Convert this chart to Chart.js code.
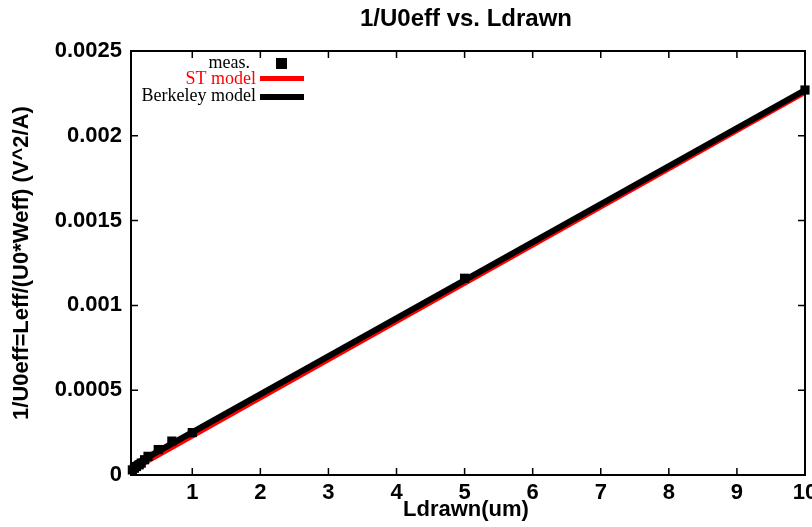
<!DOCTYPE html>
<html>
<head>
<meta charset="utf-8">
<script src="https://cdn.jsdelivr.net/npm/chart.js@4/dist/chart.umd.min.js"></script>
<style>
  html, body { margin: 0; padding: 0; background: #fff; }
  #wrap { width: 812px; height: 527px; position: relative; }
</style>
</head>
<body>
<div id="wrap"><canvas id="c"></canvas></div>
<script>
// 資料
const MEAS_L = [0.12, 0.15, 0.18, 0.22, 0.25, 0.3, 0.35, 0.5, 0.7, 1, 5, 10];
const MEAS_V = [0.00003, 0.00004, 0.00005, 0.00006, 0.00007, 0.00009, 0.00011, 0.00015, 0.0002, 0.00025, 0.00116, 0.00227];
const ST_L = [0.1, 10];
const ST_V = [0.00003, 0.00226];
const BK_L = [0.1, 10];
const BK_V = [0.00005, 0.00227];
const XTICKS = [1, 2, 3, 4, 5, 6, 7, 8, 9, 10];
const YTICKS = [0, 0.0005, 0.001, 0.0015, 0.002, 0.0025];
const TITLE = '1/U0eff vs. Ldrawn';
const XTITLE = 'Ldrawn(um)';
const YTITLE = '1/U0eff=Leff/(U0*Weff) (V^2/A)';

const pts = (xs, ys) => xs.map((x, i) => ({ x, y: ys[i] }));
const SANS = '"Liberation Sans", Arial, sans-serif';
const SERIF = '"Liberation Serif", "Times New Roman", serif';

// 框線 + 四邊內向刻度
const frame = {
  id: 'frame',
  afterDatasetsDraw(chart) {
    const { ctx, chartArea: a, scales } = chart;
    ctx.save();
    ctx.strokeStyle = '#000';
    ctx.lineWidth = 1.5;
    ctx.beginPath();
    XTICKS.forEach((v) => {
      const x = scales.x.getPixelForValue(v);
      ctx.moveTo(x, a.bottom); ctx.lineTo(x, a.bottom - 7);
      ctx.moveTo(x, a.top); ctx.lineTo(x, a.top + 7);
    });
    YTICKS.forEach((v) => {
      const y = scales.y.getPixelForValue(v);
      ctx.moveTo(a.left, y); ctx.lineTo(a.left + 7, y);
      ctx.moveTo(a.right, y); ctx.lineTo(a.right - 7, y);
    });
    ctx.stroke();
    ctx.lineWidth = 2;
    ctx.strokeRect(a.left, a.top, a.right - a.left, a.bottom - a.top);
    ctx.restore();
  },
};

// 標題、軸標題、圖例
const texts = {
  id: 'texts',
  afterDraw(chart) {
    const { ctx, chartArea: a } = chart;
    const cx = (a.left + a.right) / 2;
    ctx.save();
    ctx.fillStyle = '#000';
    ctx.textAlign = 'center';
    ctx.textBaseline = 'middle';
    ctx.font = 'bold 24px ' + SANS;
    ctx.fillText(TITLE, cx - 2, 19);
    ctx.font = 'bold 22px ' + SANS;
    ctx.fillText(XTITLE, cx - 2, 510);
    ctx.save();
    ctx.translate(22, (a.top + a.bottom) / 2);
    ctx.rotate(-Math.PI / 2);
    ctx.fillText(YTITLE, 0, 0);
    ctx.restore();

    // legend
    ctx.font = '18px ' + SERIF;
    ctx.textAlign = 'right';
    const tx = 256;
    ctx.fillStyle = '#000';
    ctx.fillText('meas.', tx - 6, 63);
    ctx.fillRect(276, 58, 11, 11);
    ctx.fillStyle = '#ff0000';
    ctx.fillText('ST model', tx, 79);
    ctx.fillRect(260, 76, 44, 5);
    ctx.fillStyle = '#000';
    ctx.fillText('Berkeley model', tx, 96);
    ctx.fillRect(260, 94, 44, 6);
    ctx.restore();
  },
};

new Chart(document.getElementById('c'), {
  type: 'scatter',
  data: {
    datasets: [
      {
        label: 'ST model', data: pts(ST_L, ST_V), showLine: true,
        borderColor: '#ff0000', borderWidth: 6, pointRadius: 0, order: 3,
      },
      {
        label: 'Berkeley model', data: pts(BK_L, BK_V), showLine: true,
        borderColor: '#000', borderWidth: 6, pointRadius: 0, order: 2,
      },
      {
        label: 'meas.', data: pts(MEAS_L, MEAS_V), showLine: false,
        pointStyle: 'rect', pointRadius: 6.5, backgroundColor: '#000', borderColor: '#000',
        borderWidth: 0, clip: false, order: 1,
      },
    ],
  },
  options: {
    responsive: true, maintainAspectRatio: false, animation: false,
    devicePixelRatio: 1,
    layout: { padding: { top: 51, right: 7, left: 0, bottom: 0 } },
    plugins: { legend: { display: false }, tooltip: { enabled: false } },
    scales: {
      x: {
        type: 'linear', min: 0.1, max: 10,
        afterBuildTicks: (s) => { s.ticks = XTICKS.map((v) => ({ value: v })); },
        afterFit: (s) => { s.height = 52; s.paddingLeft = 0; s.paddingRight = 0; },
        grid: { display: false, drawTicks: false },
        border: { display: false },
        ticks: { color: '#000', font: { family: SANS, size: 22, weight: 'bold' }, padding: 5, maxRotation: 0, autoSkip: false },
      },
      y: {
        type: 'linear', min: 0, max: 0.0025,
        afterBuildTicks: (s) => { s.ticks = YTICKS.map((v) => ({ value: v })); },
        afterFit: (s) => { s.width = 131; s.paddingTop = 0; s.paddingBottom = 0; },
        grid: { display: false, drawTicks: false },
        border: { display: false },
        ticks: {
          color: '#000', font: { family: SANS, size: 22, weight: 'bold' }, padding: 9, autoSkip: false,
          callback: (v) => String(Number(v.toFixed(4))),
        },
      },
    },
  },
  plugins: [frame, texts],
});
</script>
</body>
</html>
